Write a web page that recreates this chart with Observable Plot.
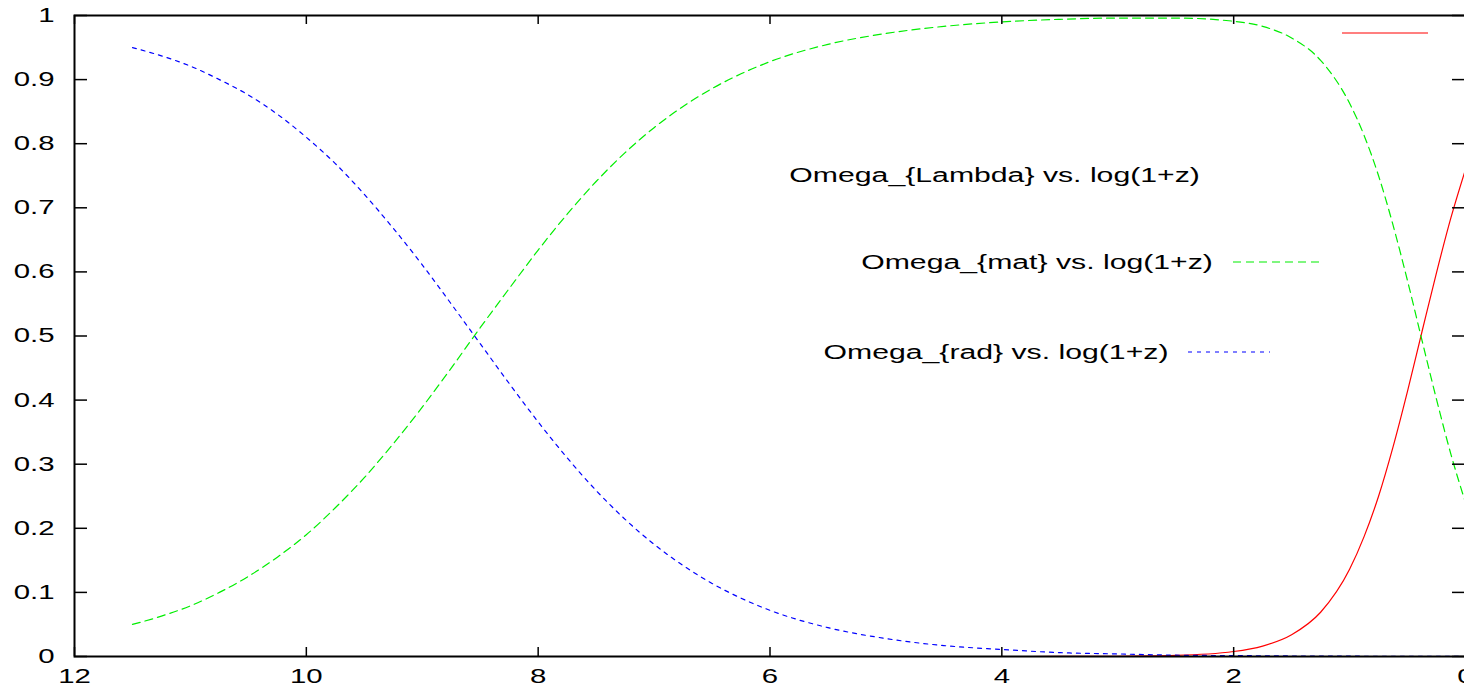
<!DOCTYPE html>
<html>
<head>
<meta charset="utf-8">
<script src="https://cdn.jsdelivr.net/npm/d3@7"></script>
<script src="https://cdn.jsdelivr.net/npm/@observablehq/plot@0.6"></script>
<style>
html, body { margin: 0; padding: 0; background: #fff; overflow: hidden; }
#wrap { position: relative; width: 1464px; height: 689px; overflow: hidden; }
.lg { position: absolute; font-family: "Liberation Sans", Arial, sans-serif; font-size: 20px; line-height: 20px;
      white-space: nowrap; color: #000; transform: scaleX(1.51); transform-origin: right center; }
.sw { position: absolute; overflow: visible; }
</style>
</head>
<body>
<div id="wrap"></div>
<script>
// log(1+z) sample positions
const xValues = [11.5, 11.25, 11, 10.75, 10.5, 10.25, 10, 9.75, 9.5, 9.25,
                 9, 8.75, 8.5, 8.25, 8, 7.75, 7.5, 7.25, 7, 6.75,
                 6.5, 6.25, 6, 5.5, 5, 4.5, 4, 3.5, 3, 2.5,
                 2, 1.75, 1.5, 1.25, 1, 0.875, 0.75, 0.625, 0.5, 0.375,
                 0.25, 0.125, 0];
const omegaLambda = [0, 0, 0, 0, 0, 0, 0, 0, 0, 0,
                     0, 0, 0, 0, 0, 0, 0, 0, 0, 0,
                     0, 0, 0, 0, 0, 0, 0, 0.0001, 0.0004, 0.0017,
                     0.0078, 0.0163, 0.034, 0.069, 0.136, 0.187, 0.250, 0.327, 0.414, 0.507,
                     0.599, 0.685, 0.760];
const omegaMat = [0.050, 0.063, 0.079, 0.100, 0.125, 0.155, 0.190, 0.232, 0.279, 0.332,
                  0.389, 0.450, 0.513, 0.574, 0.634, 0.690, 0.741, 0.786, 0.825, 0.858,
                  0.886, 0.909, 0.928, 0.955, 0.972, 0.983, 0.990, 0.994, 0.996, 0.996,
                  0.991, 0.983, 0.965, 0.930, 0.863, 0.813, 0.750, 0.673, 0.586, 0.493,
                  0.401, 0.315, 0.240];
const omegaRad = [0.950, 0.937, 0.921, 0.900, 0.876, 0.846, 0.810, 0.769, 0.721, 0.668,
                  0.611, 0.550, 0.488, 0.426, 0.366, 0.310, 0.259, 0.214, 0.175, 0.142,
                  0.114, 0.091, 0.072, 0.045, 0.028, 0.017, 0.011, 0.006, 0.004, 0.002,
                  0.0014, 0.0011, 0.0008, 0.0006, 0.0005, 0.0004, 0.0003, 0.0002, 0.0002, 0.0001,
                  0.0001, 0.0001, 0.0000];
const xTicks = [12, 10, 8, 6, 4, 2, 0];
const yTicks = [0, 0.1, 0.2, 0.3, 0.4, 0.5, 0.6, 0.7, 0.8, 0.9, 1];
const seriesLabels = ["Omega_{Lambda} vs. log(1+z)", "Omega_{mat} vs. log(1+z)", "Omega_{rad} vs. log(1+z)"];

const rows = xValues.map((x, i) => ({x, lambda: omegaLambda[i], mat: omegaMat[i], rad: omegaRad[i]}));

const S = 1.47; // horizontal stretch of the original raster text
const W = 1466, H = 689, ML = 74, MR = 1, MT = 15, MB = 33;
const plotW = W - ML - MR, plotH = H - MT - MB;
const FONT = '"Liberation Sans", Arial, sans-serif';

const chart = Plot.plot({
  width: W, height: H,
  marginLeft: ML, marginRight: MR, marginTop: MT, marginBottom: MB,
  style: {fontFamily: FONT, fontSize: "20px", color: "#000", background: "#fff", maxWidth: "none", overflow: "visible"},
  x: {domain: [12, 0]},
  y: {domain: [0, 1]},
  marks: [
    Plot.line(rows, {x: "x", y: "lambda", stroke: "#ff0000", strokeWidth: 1.2, curve: "monotone-x"}),
    Plot.line(rows, {x: "x", y: "mat", stroke: "#00ee00", strokeWidth: 1.2, strokeDasharray: "8,5", curve: "monotone-x"}),
    Plot.line(rows, {x: "x", y: "rad", stroke: "#0000ff", strokeWidth: 1.2, strokeDasharray: "4,5", curve: "monotone-x"}),
    Plot.tickX(xTicks, {x: d => d, stroke: "#000", strokeWidth: 1.5, insetTop: plotH - 9}),
    Plot.tickX(xTicks, {x: d => d, stroke: "#000", strokeWidth: 1.5, insetBottom: plotH - 9}),
    Plot.tickY(yTicks, {y: d => d, stroke: "#000", strokeWidth: 1.5, insetRight: plotW - 13}),
    Plot.tickY(yTicks, {y: d => d, stroke: "#000", strokeWidth: 1.5, insetLeft: plotW - 13}),
    Plot.axisX(xTicks, {tickSize: 0, tickPadding: 12, tickFormat: d => String(d), fontSize: 20, label: null}),
    Plot.axisY(yTicks, {tickSize: 0, tickPadding: 20, tickFormat: d => String(d), fontSize: 20, label: null}),
    Plot.frame({stroke: "#000", strokeWidth: 2})
  ]
});

// stretch text horizontally around its anchor, like the original raster
chart.querySelectorAll("text").forEach(el => {
  const t = el.getAttribute("transform") || "";
  const xa = el.getAttribute("x");
  const xn = xa != null && /^-?[\d.]+$/.test(xa) ? +xa : 0;
  el.setAttribute("transform", `${t} translate(${xn},0) scale(${S},1) translate(${-xn},0)`);
});

const wrap = document.getElementById("wrap");
wrap.appendChild(chart);

// legend (gnuplot key layout)
const legend = [
  {label: seriesLabels[0], right: 1200, cy: 175, sx1: 1342, sx2: 1428, sy: 33, color: "#ff0000", dash: null},
  {label: seriesLabels[1], right: 1213, cy: 262, sx1: 1233, sx2: 1320, sy: 262, color: "#00ee00", dash: "8,5"},
  {label: seriesLabels[2], right: 1168, cy: 352, sx1: 1188, sx2: 1270, sy: 352, color: "#0000ff", dash: "4,5"}
];
legend.forEach(e => {
  const d = document.createElement("div");
  d.className = "lg";
  d.textContent = e.label;
  d.style.right = (1464 - e.right) + "px";
  d.style.top = (e.cy - 10) + "px";
  wrap.appendChild(d);
  const ns = "http://www.w3.org/2000/svg";
  const s = document.createElementNS(ns, "svg");
  s.setAttribute("class", "sw");
  s.setAttribute("width", e.sx2 - e.sx1);
  s.setAttribute("height", 6);
  s.style.left = e.sx1 + "px";
  s.style.top = (e.sy - 3) + "px";
  const l = document.createElementNS(ns, "line");
  l.setAttribute("x1", 0); l.setAttribute("x2", e.sx2 - e.sx1);
  l.setAttribute("y1", 3); l.setAttribute("y2", 3);
  l.setAttribute("stroke", e.color);
  l.setAttribute("stroke-width", 1.2);
  if (e.dash) l.setAttribute("stroke-dasharray", e.dash);
  s.appendChild(l);
  wrap.appendChild(s);
});
</script>
</body>
</html>
